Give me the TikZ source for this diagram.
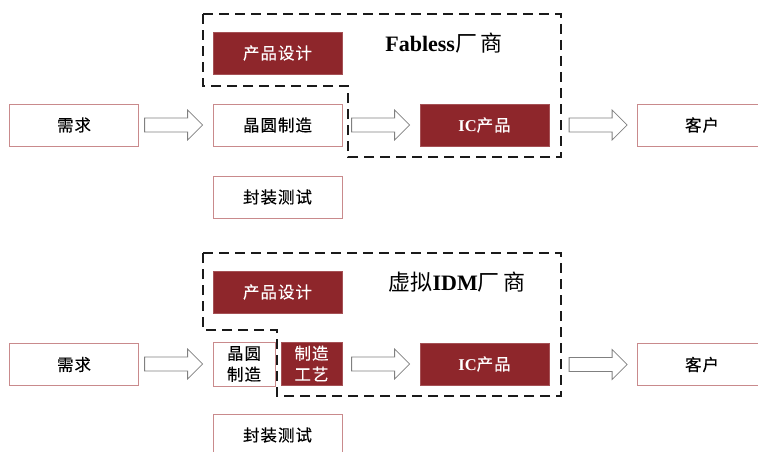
\documentclass[tikz,border=0pt]{standalone}
\usepackage{fontspec}
\setmainfont{Liberation Serif}
\newfontfamily\cjk{Noto Sans CJK SC}
\newfontfamily\cjkm[FakeBold=0.25,LetterSpace=6]{Noto Sans CJK SC}
\usetikzlibrary{calc}
\definecolor{dred}{HTML}{8E262B}
\definecolor{pborder}{HTML}{C98A8C}
\definecolor{agray}{HTML}{808080}
\definecolor{dashc}{HTML}{1A1A1A}
\tikzset{
  wbox/.style={draw=pborder, fill=white, line width=0.8pt, minimum width=129pt, minimum height=42pt, inner sep=0pt, font=\cjkm\fontsize{16.5}{21}\selectfont},
  dbox/.style={wbox, draw=dred!80!white, fill=dred, text=white},
  harrowsty/.style={draw=agray, fill=white, line width=0.8pt},
  dashbox/.style={draw=dashc, line width=1.8pt, dash pattern=on 10pt off 6pt},
  title/.style={font=\fontsize{22}{24}\selectfont\bfseries, inner sep=0pt}
}
\newcommand\harrow[2]{\draw[harrowsty] let \p1=(#1.east), \p2=([xshift=-10pt]#2.west) in (\x2-58pt,\y2+7pt) -- (\x2-15pt,\y2+7pt) -- (\x2-15pt,\y2+15pt) -- (\x2,\y2) -- (\x2-15pt,\y2-15pt) -- (\x2-15pt,\y2-7pt) -- (\x2-58pt,\y2-7pt) -- cycle;}
\begin{document}
\begin{tikzpicture}[x=1pt,y=-1pt]
\useasboundingbox (0,0) rectangle (758,452);
% top row
\node[wbox] (xq1) at (74,125) {需求};
\node[dbox] (pd1) at (277.5,53) {产品设计};
\node[wbox] (wf1) at (277.5,125) {晶圆制造};
\node[wbox] (pt1) at (277.5,197) {封装测试};
\node[dbox] (ic1) at (484.5,125) {{\bfseries\rmfamily IC}产品};
\node[wbox] (kh1) at (702,125) {客户};
\draw[dashbox] (203,14) -- (561,14) -- (561,157) -- (348,157) -- (348,86) -- (203,86) -- cycle;
\node[title] (lab1) at (444,43) {Fabless{\cjk\mdseries 厂\,商}};
\harrow{xq1}{wf1}
\harrow{wf1}{ic1}
\harrow{ic1}{kh1}
% bottom row
\node[wbox] (xq2) at (74,364.5) {需求};
\node[dbox] (pd2) at (277.5,292) {产品设计};
\node[wbox, minimum width=62pt, minimum height=44pt, align=center] (wf2) at (244,364) {晶圆\\制造};
\node[dbox, minimum width=61pt, minimum height=43pt, align=center] (gy2) at (311.5,363.5) {制造\\工艺};
\node[wbox] (pt2) at (277.5,435) {封装测试};
\node[dbox] (ic2) at (484.5,364) {{\bfseries\rmfamily IC}产品};
\node[wbox] (kh2) at (702,364.5) {客户};
\draw[dashbox] (203,253) -- (561,253) -- (561,396) -- (277,396) -- (277,330) -- (203,330) -- cycle;
\node[title] (lab2) at (457,282) {{\cjk\mdseries 虚拟}IDM{\cjk\mdseries 厂\,商}};
\harrow{xq2}{wf2}
\harrow{gy2}{ic2}
\harrow{ic2}{kh2}
\end{tikzpicture}
\end{document}
